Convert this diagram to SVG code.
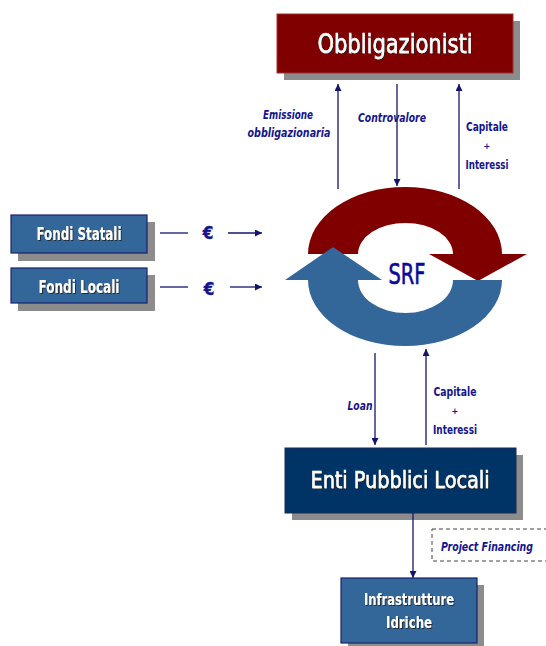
<svg xmlns="http://www.w3.org/2000/svg" width="546" height="646" viewBox="0 0 546 646">
  <defs>
    <style>
      .shadow { fill: #8c8c8c; }
      .boxblue { fill: #336699; stroke: #1a1f6e; stroke-width: 1.2; }
      .title { font-family: "DejaVu Sans Condensed", "DejaVu Sans", sans-serif; fill: #ffffff; text-anchor: middle; filter: url(#ts); }
      .heavy { stroke: #ffffff; stroke-width: 0.5; }
      .lbl { font-family: "DejaVu Sans Condensed", "DejaVu Sans", sans-serif; fill: #14148c; text-anchor: middle; font-weight: bold; }
      .it { font-style: italic; }
      .conn { stroke: #14146e; stroke-width: 1.3; fill: none; }
    </style>
    <marker id="ah" viewBox="0 0 10 10" refX="10" refY="5" markerWidth="7" markerHeight="7" markerUnits="userSpaceOnUse" orient="auto">
      <path d="M0,0 L10,5 L0,10 Z" fill="#14146e"/>
    </marker>
    <filter id="ts" x="-10%" y="-20%" width="120%" height="150%">
      <feDropShadow dx="1" dy="1" stdDeviation="0.3" flood-color="#222222" flood-opacity="0.9"/>
    </filter>
  </defs>

  <!-- Bondholders -->
  <g id="obbligazionisti">
    <rect class="shadow" x="284" y="21" width="236" height="59"/>
    <rect x="277" y="14" width="236" height="59" fill="#800000" stroke="#a03030" stroke-width="1"/>
    <text class="title heavy" x="395" y="53" font-size="26" textLength="155" lengthAdjust="spacingAndGlyphs">Obbligazionisti</text>
  </g>

  <!-- State funds -->
  <g id="fondi-statali">
    <rect class="shadow" x="18" y="222" width="137" height="39"/>
    <rect class="boxblue" x="11" y="215" width="136" height="38"/>
    <text class="title" x="79" y="240" font-size="17" font-weight="bold" textLength="85" lengthAdjust="spacingAndGlyphs">Fondi Statali</text>
  </g>

  <!-- Local funds -->
  <g id="fondi-locali">
    <rect class="shadow" x="18" y="275" width="137" height="36"/>
    <rect class="boxblue" x="11" y="268" width="136" height="35"/>
    <text class="title" x="79" y="293" font-size="17" font-weight="bold" textLength="81" lengthAdjust="spacingAndGlyphs">Fondi Locali</text>
  </g>

  <!-- Revolving fund cycle -->
  <g id="srf">
    <path d="M308,254 A97,67 0 0 1 502,254 L527,254 L478,281 L429,254 L453,254 A47.5,31 0 0 0 358,254 Z" fill="#800000"/>
    <path d="M502,280 A97,66 0 0 1 308,280 L285,280 L333,247 L382,280 L358,280 A47.5,33 0 0 0 453,280 Z" fill="#336699"/>
    <text x="407" y="284" font-family="DejaVu Sans Condensed, DejaVu Sans, sans-serif" font-size="28" fill="#0a0a99" stroke="#0a0a99" stroke-width="0.6" text-anchor="middle" textLength="37" lengthAdjust="spacingAndGlyphs">SRF</text>
  </g>

  <!-- Local public bodies -->
  <g id="enti-pubblici-locali">
    <rect class="shadow" x="292" y="455" width="231" height="65"/>
    <rect x="285" y="448" width="231" height="65" fill="#003366" stroke="#1a2a55" stroke-width="1"/>
    <text class="title heavy" x="400" y="488" font-size="23" textLength="179" lengthAdjust="spacingAndGlyphs">Enti Pubblici Locali</text>
  </g>

  <!-- Water infrastructure -->
  <g id="infrastrutture-idriche">
    <rect class="shadow" x="348" y="585" width="136" height="65"/>
    <rect class="boxblue" x="341" y="578" width="136" height="65"/>
    <text class="title" x="409" y="605" font-size="16" font-weight="bold" textLength="90" lengthAdjust="spacingAndGlyphs">Infrastrutture</text>
    <text class="title" x="409" y="628" font-size="16" font-weight="bold" textLength="46" lengthAdjust="spacingAndGlyphs">Idriche</text>
  </g>

  <!-- Project financing note -->
  <g id="project-financing">
    <rect x="432" y="529" width="130" height="32" fill="none" stroke="#444444" stroke-width="1" stroke-dasharray="4,3"/>
    <text class="lbl it" x="487" y="551" font-size="11.5" textLength="92" lengthAdjust="spacingAndGlyphs">Project Financing</text>
  </g>

  <!-- Connectors -->
  <g id="connectors">
    <line class="conn" x1="338" y1="189" x2="338" y2="84" marker-end="url(#ah)"/>
    <line class="conn" x1="397" y1="84" x2="397" y2="186" marker-end="url(#ah)"/>
    <line class="conn" x1="459" y1="189" x2="459" y2="84" marker-end="url(#ah)"/>

    <line class="conn" x1="160" y1="233" x2="188" y2="233"/>
    <line class="conn" x1="228" y1="233" x2="262" y2="233" marker-end="url(#ah)"/>
    <line class="conn" x1="160" y1="287" x2="188" y2="287"/>
    <line class="conn" x1="230" y1="287" x2="262" y2="287" marker-end="url(#ah)"/>

    <line class="conn" x1="375" y1="353" x2="375" y2="445" marker-end="url(#ah)"/>
    <line class="conn" x1="426" y1="445" x2="426" y2="349" marker-end="url(#ah)"/>

    <line class="conn" x1="413" y1="513" x2="413" y2="578" marker-end="url(#ah)"/>
  </g>

  <!-- Connector labels -->
  <g id="labels">
    <text class="lbl it" x="288" y="119" font-size="12" textLength="50" lengthAdjust="spacingAndGlyphs">Emissione</text>
    <text class="lbl it" x="289" y="137" font-size="12" textLength="83" lengthAdjust="spacingAndGlyphs">obbligazionaria</text>
    <text class="lbl it" x="392" y="122" font-size="12" textLength="68" lengthAdjust="spacingAndGlyphs">Controvalore</text>
    <text class="lbl" x="487" y="131" font-size="13" textLength="42" lengthAdjust="spacingAndGlyphs">Capitale</text>
    <text class="lbl" x="487" y="149" font-size="9">+</text>
    <text class="lbl" x="487" y="169" font-size="13" textLength="43" lengthAdjust="spacingAndGlyphs">Interessi</text>

    <text class="lbl" x="208" y="239" font-size="17" font-weight="normal" stroke="#14148c" stroke-width="0.4">€</text>
    <text class="lbl" x="209" y="295" font-size="17" font-weight="normal" stroke="#14148c" stroke-width="0.4">€</text>

    <text class="lbl it" x="360" y="410" font-size="11.5" textLength="25" lengthAdjust="spacingAndGlyphs">Loan</text>
    <text class="lbl" x="455" y="396" font-size="13" textLength="43" lengthAdjust="spacingAndGlyphs">Capitale</text>
    <text class="lbl" x="455" y="414" font-size="9">+</text>
    <text class="lbl" x="455" y="434" font-size="13" textLength="44" lengthAdjust="spacingAndGlyphs">Interessi</text>
  </g>
</svg>
